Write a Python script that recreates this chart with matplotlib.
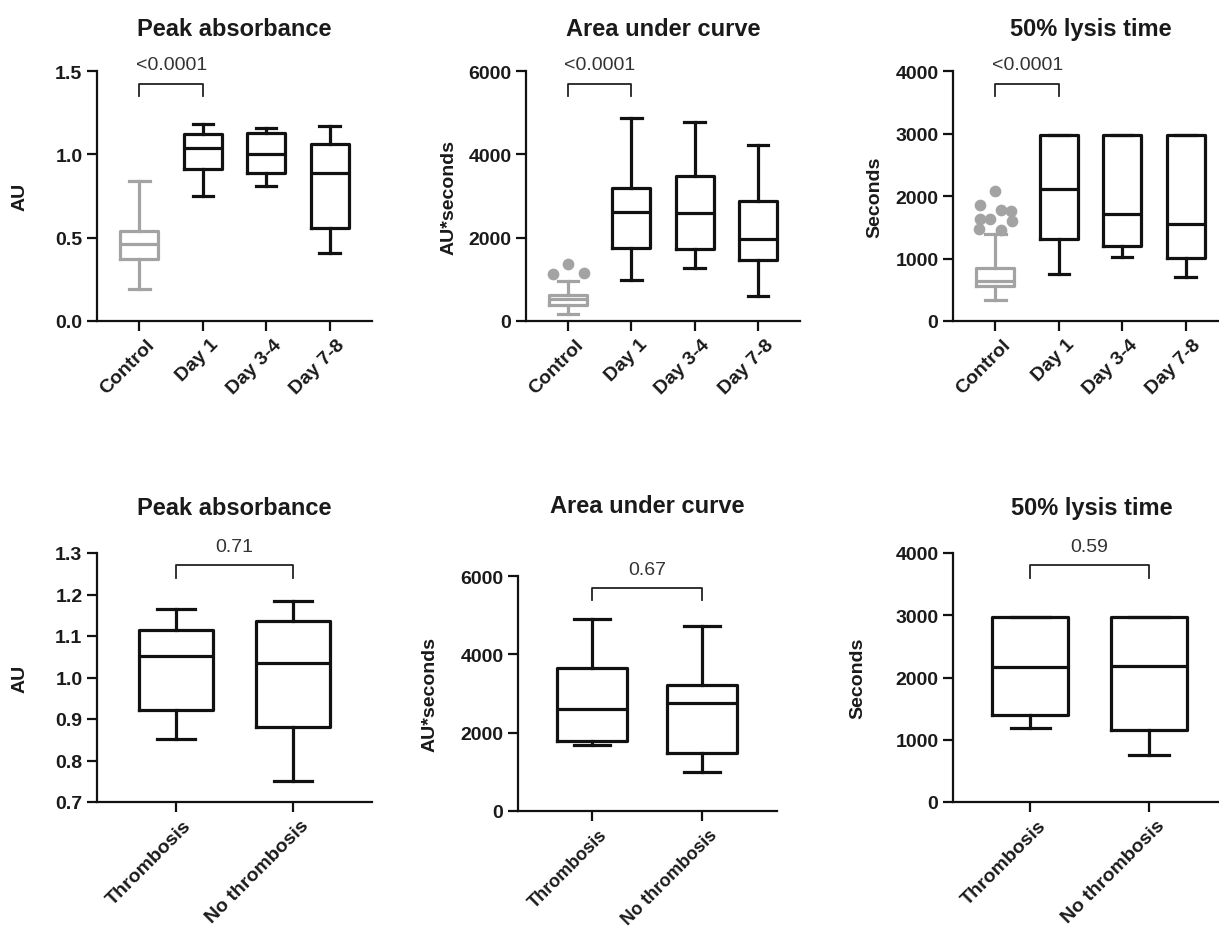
import numpy as np
import matplotlib
matplotlib.use('Agg')
import matplotlib.pyplot as plt
import matplotlib.transforms as mtransforms

plt.rcParams['font.family'] = ['Liberation Sans', 'DejaVu Sans']

# ---- data ----
top_groups = ['Control', 'Day 1', 'Day 3-4', 'Day 7-8']
bot_groups = ['Thrombosis', 'No thrombosis']

peak_lo = [0.19, 0.75, 0.81, 0.41]
peak_q1 = [0.37, 0.91, 0.89, 0.56]
peak_med = [0.46, 1.04, 1.00, 0.89]
peak_q3 = [0.54, 1.12, 1.13, 1.06]
peak_hi = [0.84, 1.18, 1.16, 1.17]

auc_lo = [180, 980, 1280, 600]
auc_q1 = [380, 1760, 1740, 1460]
auc_med = [520, 2620, 2600, 1980]
auc_q3 = [620, 3200, 3480, 2880]
auc_hi = [960, 4880, 4780, 4220]
auc_out = [1140, 1360, 1160]
auc_out_dx = [-0.24, 0.0, 0.25]

lysis_lo = [330, 760, 1030, 700]
lysis_q1 = [560, 1320, 1200, 1010]
lysis_med = [640, 2120, 1710, 1560]
lysis_q3 = [850, 2980, 2980, 2980]
lysis_hi = [1390, 2980, 2980, 2980]
lysis_out = [2080, 1850, 1630, 1640, 1770, 1760, 1600, 1470, 1460]
lysis_out_dx = [0.0, -0.25, -0.25, -0.08, 0.09, 0.25, 0.26, -0.26, 0.08]

peak2_lo = [0.851, 0.750]
peak2_q1 = [0.922, 0.880]
peak2_med = [1.053, 1.034]
peak2_q3 = [1.115, 1.136]
peak2_hi = [1.165, 1.184]

auc2_lo = [1680, 1000]
auc2_q1 = [1790, 1490]
auc2_med = [2600, 2770]
auc2_q3 = [3660, 3210]
auc2_hi = [4890, 4720]

lysis2_lo = [1190, 760]
lysis2_q1 = [1400, 1150]
lysis2_med = [2170, 2180]
lysis2_q3 = [2970, 2970]
lysis2_hi = [2970, 2970]

p_top = ['<0.0001', '<0.0001', '<0.0001']
p_bot = ['0.71', '0.67', '0.59']

GRAY = '#a3a3a3'
DARK = '#111111'

W, H = 1219, 928


def px_axes(fig, left, right, top, bottom):
    return fig.add_axes([left / W, 1 - bottom / H, (right - left) / W, (bottom - top) / H])


def make_stats(lo, q1, med, q3, hi):
    return [dict(whislo=a, q1=b, med=c, q3=d, whishi=e, fliers=[])
            for a, b, c, d, e in zip(lo, q1, med, q3, hi)]


def draw_boxes(ax, stats, colors, width, capw):
    for i, (st, col) in enumerate(zip(stats, colors)):
        lp = dict(color=col, linewidth=2.3)
        ax.bxp([st], positions=[i], widths=width, capwidths=capw, showfliers=False,
               boxprops=lp, whiskerprops=lp, capprops=lp, medianprops=lp,
               manage_ticks=False)


def style(ax, title, ylabel, groups, ylim, yticks, xlim, title_pad, ylab_x, yfmt, xsize=14):
    ax.set_xlim(*xlim)
    ax.set_ylim(*ylim)
    ax.set_yticks(yticks)
    ax.set_yticklabels([yfmt(v) for v in yticks])
    ax.set_xticks(range(len(groups)))
    ax.set_xticklabels(groups, rotation=45, ha='right', va='top', rotation_mode='anchor')
    for s in ['top', 'right']:
        ax.spines[s].set_visible(False)
    for s in ['left', 'bottom']:
        ax.spines[s].set_linewidth(1.6)
        ax.spines[s].set_color(DARK)
        ax.spines[s].set_clip_on(False)
    ax.tick_params(axis='both', direction='out', length=7, width=1.6, color=DARK,
                   labelsize=14, labelcolor='#1a1a1a')
    ax.tick_params(axis='x', labelsize=xsize)
    shift = mtransforms.ScaledTranslation(5 / 72, 0, ax.figure.dpi_scale_trans)
    for lab in ax.get_xticklabels():
        lab.set_transform(lab.get_transform() + shift)
    for lab in ax.get_xticklabels() + ax.get_yticklabels():
        lab.set_fontweight('bold')
    ax.set_title(title, fontsize=17, fontweight='bold', pad=title_pad, color='#1a1a1a')
    ax.set_ylabel(ylabel, fontsize=14, fontweight='bold', color='#1a1a1a')
    ax.yaxis.set_label_coords(ylab_x, 0.5)
    ax.patch.set_alpha(0)


def bracket(ax, x0, x1, text):
    tr = mtransforms.blended_transform_factory(ax.transData, ax.transAxes)
    ax.plot([x0, x0, x1, x1], [0.90, 0.95, 0.95, 0.90], transform=tr, color='#222222',
            linewidth=1.3, clip_on=False)
    ax.text((x0 + x1) / 2, 1.027, text, transform=tr, ha='center', va='center',
            fontsize=14, color='#333333', clip_on=False)


fig = plt.figure(figsize=(W / 100, H / 100), dpi=100)

f1 = lambda v: '%.1f' % v
f0 = lambda v: '%d' % v
top_colors = [GRAY, DARK, DARK, DARK]
bot_colors = [DARK, DARK]
top_xlim = (-0.67, 3.67)

# top row
ax1 = px_axes(fig, 97, 372, 72, 322)
draw_boxes(ax1, make_stats(peak_lo, peak_q1, peak_med, peak_q3, peak_hi), top_colors, 0.6, 0.32)
style(ax1, 'Peak absorbance', 'AU', top_groups, (0, 1.5), [0, 0.5, 1.0, 1.5], top_xlim, 26, -0.25, f1)
bracket(ax1, 0, 1, p_top[0])

ax2 = px_axes(fig, 526, 800, 72, 322)
draw_boxes(ax2, make_stats(auc_lo, auc_q1, auc_med, auc_q3, auc_hi), top_colors, 0.6, 0.32)
ax2.scatter(np.array(auc_out_dx), auc_out, s=55, color=GRAY, zorder=3, clip_on=False)
style(ax2, 'Area under curve', 'AU*seconds', top_groups, (0, 6000), [0, 2000, 4000, 6000], top_xlim, 26, -0.25, f0)
bracket(ax2, 0, 1, p_top[1])

ax3 = px_axes(fig, 953, 1228, 72, 322)
draw_boxes(ax3, make_stats(lysis_lo, lysis_q1, lysis_med, lysis_q3, lysis_hi), top_colors, 0.6, 0.32)
ax3.scatter(np.array(lysis_out_dx), lysis_out, s=55, color=GRAY, zorder=3, clip_on=False)
style(ax3, '50% lysis time', 'Seconds', top_groups, (0, 4000), [0, 1000, 2000, 3000, 4000], top_xlim, 26, -0.255, f0)
bracket(ax3, 0, 1, p_top[2])

# bottom row
ax4 = px_axes(fig, 97, 372, 554, 803)
draw_boxes(ax4, make_stats(peak2_lo, peak2_q1, peak2_med, peak2_q3, peak2_hi), bot_colors, 0.64, 0.33)
style(ax4, 'Peak absorbance', 'AU', bot_groups, (0.7, 1.3), [0.7, 0.8, 0.9, 1.0, 1.1, 1.2, 1.3],
      (-0.675, 1.675), 28, -0.25, f1)
bracket(ax4, 0, 1, p_bot[0])

ax5 = px_axes(fig, 518, 777, 577, 812)
draw_boxes(ax5, make_stats(auc2_lo, auc2_q1, auc2_med, auc2_q3, auc2_hi), bot_colors, 0.64, 0.33)
style(ax5, 'Area under curve', 'AU*seconds', bot_groups, (0, 6000), [0, 2000, 4000, 6000],
      (-0.67, 1.68), 46, -0.305, f0, xsize=13)
bracket(ax5, 0, 1, p_bot[1])

ax6 = px_axes(fig, 953, 1231, 554, 803)
draw_boxes(ax6, make_stats(lysis2_lo, lysis2_q1, lysis2_med, lysis2_q3, lysis2_hi), bot_colors, 0.64, 0.33)
style(ax6, '50% lysis time', 'Seconds', bot_groups, (0, 4000), [0, 1000, 2000, 3000, 4000],
      (-0.65, 1.69), 28, -0.31, f0)
bracket(ax6, 0, 1, p_bot[2])

fig.savefig('out.png', dpi=100)
